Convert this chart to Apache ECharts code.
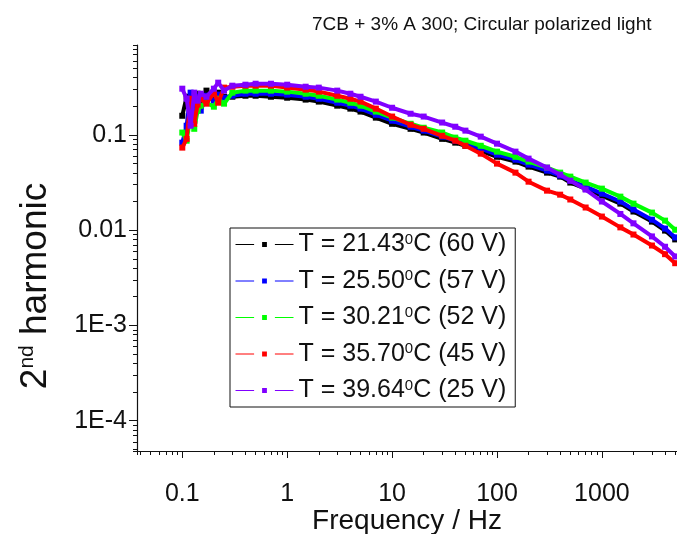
<!DOCTYPE html>
<html><head><meta charset="utf-8">
<script src="https://cdn.jsdelivr.net/npm/echarts@6/dist/echarts.min.js"></script>
<style>html,body{margin:0;padding:0;background:#fff}#c{width:677px;height:534px}</style>
</head><body><div id="c"></div>
<script>
// ---- data ----
const freq = [0.1,0.11,0.12,0.13,0.14,0.15,0.17,0.2,0.22,0.25,0.3,0.4,0.5,0.7,1,1.5,2,3,4,5,7,10,15,20,30,40,50,70,100,150,200,300,400,500,700,1000,1500,2000,3000,4000,5000];
const temps = ['21.43','25.50','30.21','35.70','39.64'];
const volts = ['60','57','52','45','25'];
const blackVals = [0.159,0.252,0.171,0.218,0.271,0.203,0.292,0.240,0.278,0.252,0.252,0.258,0.258,0.252,0.246,0.235,0.224,0.203,0.189,0.176,0.152,0.131,0.116,0.106,0.091,0.083,0.077,0.068,0.059,0.0525,0.0465,0.0402,0.0365,0.0316,0.0273,0.0231,0.0190,0.0157,0.0123,0.0099,0.0080];
const blueVals = [0.083,0.125,0.278,0.141,0.252,0.180,0.258,0.229,0.265,0.246,0.258,0.271,0.271,0.271,0.265,0.252,0.240,0.218,0.203,0.189,0.163,0.141,0.122,0.111,0.096,0.087,0.081,0.0718,0.0621,0.055,0.0488,0.0422,0.0374,0.0331,0.0287,0.0242,0.0200,0.0165,0.0129,0.0104,0.0084];
const greenVals = [0.106,0.087,0.159,0.116,0.180,0.203,0.218,0.198,0.240,0.213,0.278,0.292,0.292,0.292,0.285,0.271,0.258,0.235,0.218,0.203,0.176,0.152,0.131,0.119,0.106,0.0937,0.087,0.077,0.0668,0.059,0.0525,0.0454,0.0402,0.0365,0.0316,0.0273,0.0225,0.0190,0.0153,0.0126,0.0101];
const redVals = [0.0736,0.091,0.240,0.131,0.208,0.240,0.213,0.278,0.218,0.314,0.321,0.329,0.329,0.329,0.314,0.299,0.285,0.258,0.240,0.224,0.189,0.156,0.128,0.116,0.098,0.087,0.077,0.0636,0.050,0.0402,0.0323,0.0260,0.0236,0.0210,0.0173,0.0139,0.0107,0.0090,0.0069,0.0056,0.0045];
const purpleVals = [0.306,0.240,0.125,0.278,0.229,0.271,0.252,0.306,0.354,0.292,0.329,0.337,0.345,0.345,0.337,0.321,0.314,0.292,0.271,0.252,0.224,0.193,0.167,0.156,0.135,0.122,0.111,0.096,0.081,0.0668,0.0564,0.0454,0.0383,0.0331,0.0267,0.0200,0.0148,0.0118,0.0086,0.0067,0.0053];
const xTickExps = [-1,0,1,2,3];
const xTickText = ['0.1','1','10','100','1000'];
const yTickExps = [-4,-3,-2,-1];
const yTickText = ['1E-4','1E-3','0.01','0.1'];
const minorMultipliers = [2,3,4,5,6,7,8,9];

// ---- chart ----
const FONT = 'Liberation Sans, Arial, sans-serif';
const X_MIN = 0.037, X_MAX = 5200;
const Y_MIN = 4.8e-5, Y_MAX = 0.88;
const seriesVals = [blackVals, blueVals, greenVals, redVals, purpleVals];
const colors = ['#000000', '#0000ff', '#00ff00', '#ff0000', '#8000ff'];

function lbl(v, exps, texts) {
  const e = Math.round(Math.log10(v));
  const i = exps.indexOf(e);
  return i >= 0 ? texts[i] : '';
}

const xAxes = [{
  type: 'log', logBase: 10, min: X_MIN, max: X_MAX, position: 'bottom',
  name: 'Frequency / Hz', nameLocation: 'middle', nameGap: 56, nameMoveOverlap: false,
  nameTextStyle: { fontFamily: FONT, fontSize: 28, color: '#111' },
  axisLine: { show: true, lineStyle: { color: '#111', width: 1.2 } },
  axisTick: { show: true, inside: false, length: 7, lineStyle: { color: '#111' } },
  axisLabel: { show: true, margin: 31, showMinLabel: false, showMaxLabel: false,
    fontFamily: FONT, fontSize: 25, color: '#111',
    formatter: v => lbl(v, xTickExps, xTickText) },
  splitLine: { show: false }
}];
const yAxes = [{
  type: 'log', logBase: 10, min: Y_MIN, max: Y_MAX, position: 'left',
  name: '{n|2}{s|nd}{n| harmonic}', nameLocation: 'middle', nameGap: 83, nameRotate: 90,
  nameMoveOverlap: false,
  nameTextStyle: { fontFamily: FONT, fontSize: 37, color: '#111', padding: [0, 76, 0, 0],
    rich: { n: { fontFamily: FONT, fontSize: 37, color: '#111' },
            s: { fontFamily: FONT, fontSize: 21, color: '#111', verticalAlign: 'top' } } },
  axisLine: { show: true, lineStyle: { color: '#111', width: 1.2 } },
  axisTick: { show: true, inside: false, length: 8, lineStyle: { color: '#111' } },
  axisLabel: { show: true, margin: 10, showMinLabel: false, showMaxLabel: false,
    fontFamily: FONT, fontSize: 25, color: '#111',
    formatter: v => lbl(v, yTickExps, yTickText) },
  splitLine: { show: false }
}];
// minor ticks: overlay log axes shifted by the multiplier so their decade ticks fall on k*10^n
minorMultipliers.forEach(k => {
  xAxes.push({
    type: 'log', logBase: 10, min: X_MIN / k, max: X_MAX / k, position: 'bottom', offset: 0,
    axisLine: { show: false }, axisLabel: { show: false }, splitLine: { show: false },
    axisTick: { show: true, inside: false, length: 4, lineStyle: { color: '#111' } }
  });
  yAxes.push({
    type: 'log', logBase: 10, min: Y_MIN / k, max: Y_MAX / k, position: 'left', offset: 0,
    axisLine: { show: false }, axisLabel: { show: false }, splitLine: { show: false },
    axisTick: { show: true, inside: false, length: 4, lineStyle: { color: '#111' } }
  });
});

const series = seriesVals.map((vals, i) => ({
  type: 'line',
  name: 'T = ' + temps[i] + '°C (' + volts[i] + ' V)',
  xAxisIndex: 0, yAxisIndex: 0,
  data: freq.map((f, j) => [f, vals[j]]),
  symbol: 'rect', symbolSize: 6, showSymbol: true, showAllSymbol: true,
  lineStyle: { color: colors[i], width: 4 },
  itemStyle: { color: colors[i] },
  emphasis: { disabled: true },
  z: 2 + i
}));

const chart = echarts.init(document.getElementById('c'), null, { renderer: 'canvas' });
chart.setOption({
  animation: false,
  backgroundColor: '#fff',
  title: {
    text: '7CB + 3% A 300; Circular polarized light',
    left: 307, top: 10,
    textStyle: { fontFamily: FONT, fontSize: 19, fontWeight: 'normal', color: '#111' }
  },
  grid: { left: 137, right: 0, top: 45, bottom: 83, containLabel: false, outerBoundsMode: 'none' },
  legend: {
    orient: 'vertical', left: 230, top: 228,
    backgroundColor: '#fff', borderColor: '#111', borderWidth: 1,
    padding: [4, 9, 4, 5], itemGap: 11.5, itemWidth: 58, itemHeight: 16,
    selectedMode: false,
    lineStyle: { width: 1 },
    itemStyle: { borderColor: '#fff', borderWidth: 8 },
    formatter: name => name.replace('°', '{s|0}'),
    textStyle: { fontFamily: FONT, fontSize: 25, color: '#111',
      rich: { s: { fontFamily: FONT, fontSize: 15, color: '#111', verticalAlign: 'top' } } },
    data: series.map(s => s.name)
  },
  xAxis: xAxes,
  yAxis: yAxes,
  series: series
});
</script>
</body></html>
